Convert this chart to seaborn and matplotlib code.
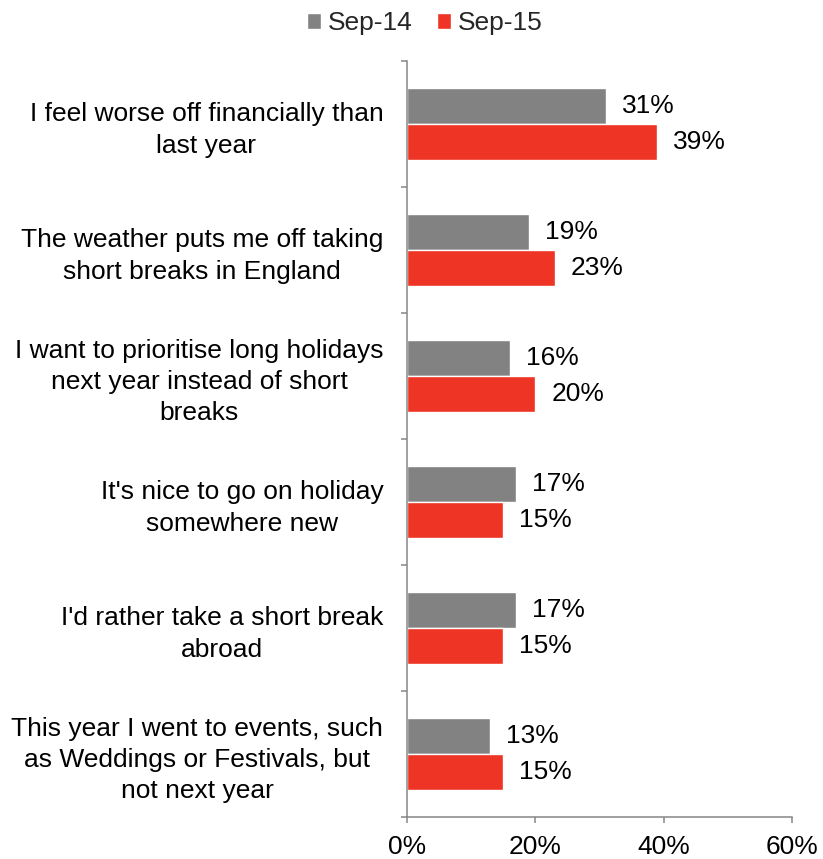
import matplotlib
matplotlib.use("Agg")
import matplotlib.pyplot as plt
import seaborn as sns
import pandas as pd
from matplotlib.ticker import FixedLocator, PercentFormatter

sns.set_theme(style="white")
plt.rcParams["font.family"] = ["Liberation Sans", "DejaVu Sans"]

categories = [
    "I feel worse off financially than\nlast year",
    "The weather puts me off taking\nshort breaks in England",
    "I want to prioritise long holidays\nnext year instead of short\nbreaks",
    "It's nice to go on holiday\nsomewhere new",
    "I'd rather take a short break\nabroad",
    "This year I went to events, such\nas Weddings or Festivals, but\nnot next year",
]
series_names = ["Sep-14", "Sep-15"]
sep14 = [31, 19, 16, 17, 17, 13]
sep15 = [39, 23, 20, 15, 15, 15]
x_ticks = [0, 20, 40, 60]

colors = {"Sep-14": "#828282", "Sep-15": "#EE3424"}
axis_color = "#868686"
fs = 19

df = pd.DataFrame({
    "reason": categories * 2,
    "period": [series_names[0]] * len(categories) + [series_names[1]] * len(categories),
    "share": sep14 + sep15,
})

fig = plt.figure(figsize=(8.23, 8.59), dpi=100)
ax = fig.add_axes([0.4945, 0.049, 0.4678, 0.880])

sns.barplot(data=df, y="reason", x="share", hue="period", order=categories,
            hue_order=series_names, palette=colors, orient="h",
            width=0.57, gap=0, saturation=1, ax=ax, legend=True)

# value labels at the end of each bar
for container in ax.containers:
    ax.bar_label(container, labels=[f"{v:.0f}%" for v in container.datavalues],
                 padding=11.5, fontsize=fs, color="black")

ax.set_xlim(0, 60)
ax.set_ylim(len(categories) - 0.5, -0.5)
ax.xaxis.set_major_locator(FixedLocator(x_ticks))
ax.xaxis.set_major_formatter(PercentFormatter(decimals=0))
ax.set_xlabel("")
ax.set_ylabel("")

# category labels centred on each group, tick marks at group boundaries
ax.set_yticks(range(len(categories)))
ax.set_yticklabels(categories, multialignment="center", fontsize=fs, color="black",
                   linespacing=1.38)
ax.tick_params(axis="y", which="major", length=0, pad=17)
ax.yaxis.set_minor_locator(FixedLocator([i - 0.5 for i in range(len(categories) + 1)]))
ax.tick_params(axis="y", which="minor", length=4.3, width=1.1, color=axis_color, left=True)
ax.tick_params(axis="x", which="major", length=4.3, width=1.1, color=axis_color,
               bottom=True, labelsize=fs, labelcolor="black", pad=9)

for side in ["top", "right"]:
    ax.spines[side].set_visible(False)
for side in ["left", "bottom"]:
    ax.spines[side].set_color(axis_color)
    ax.spines[side].set_linewidth(1.1)
ax.grid(False)

handles, labels = ax.get_legend_handles_labels()
ax.legend_.remove()
fig.legend(handles, labels, loc="center", bbox_to_anchor=(0.516, 0.973), ncol=2,
           frameon=False, fontsize=fs, handlelength=0.55, handleheight=0.55,
           handletextpad=0.25, columnspacing=0.9)

fig.savefig("out.png", dpi=100, facecolor="white")
